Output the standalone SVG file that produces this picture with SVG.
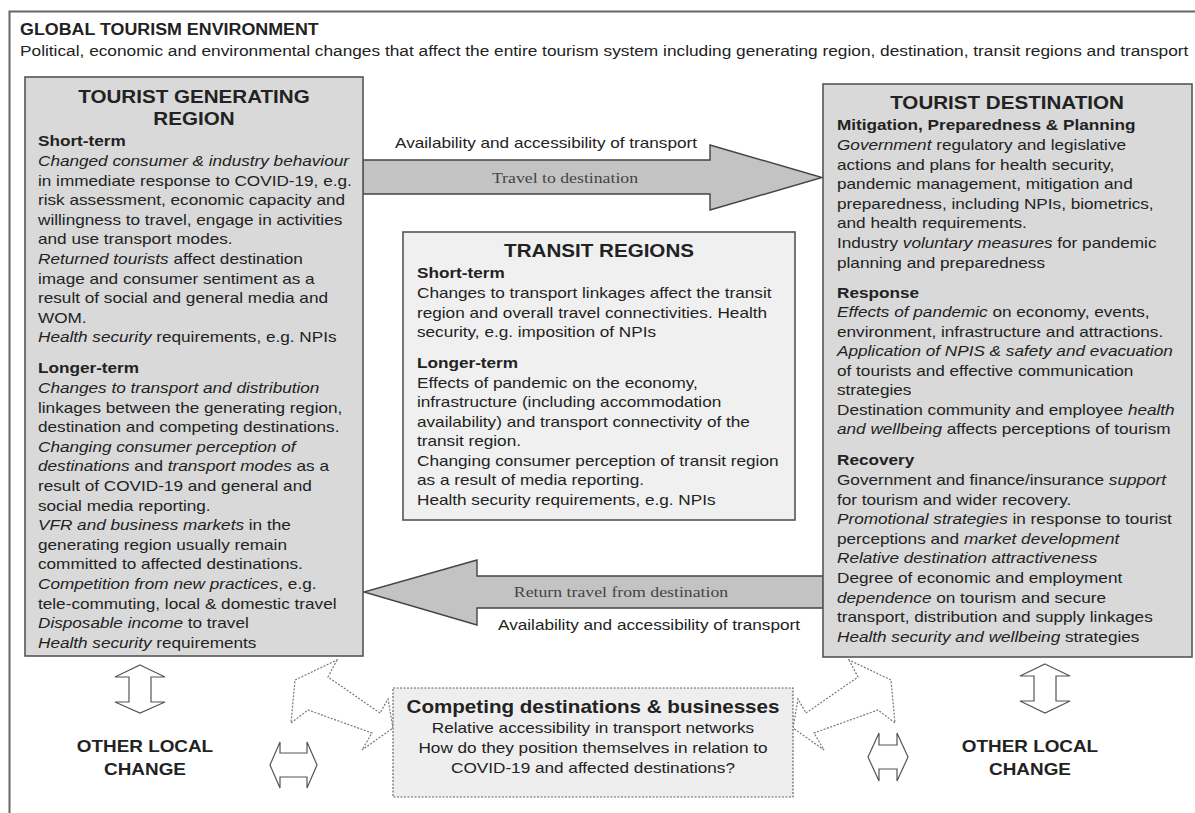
<svg xmlns="http://www.w3.org/2000/svg" width="1195" height="813" viewBox="0 0 1195 813">
<style>
text{font-family:"Liberation Sans",Arial,sans-serif;fill:#222;font-size:15px}
.b{font-weight:bold}
.t{font-weight:bold;font-size:18px}
.i{font-style:italic}
.m{text-anchor:middle}
.s{font-family:"Liberation Serif","Times New Roman",serif;fill:#444;font-size:15.5px}
.box{fill:#d9d9d9;stroke:#555;stroke-width:1.6}
.lbox{fill:#f0f0f0;stroke:#555;stroke-width:1.6}
.arr{fill:#c3c3c3;stroke:#444;stroke-width:1.4}
.dbl{fill:#fff;stroke:#555;stroke-width:1.2}
.dot{fill:#fff;stroke:#777;stroke-width:1.2;stroke-dasharray:2 1.5}
</style>
<rect width="1195" height="813" fill="#fff"/>
<path d="M9.5 813 V11.5 H1195" fill="none" stroke="#666" stroke-width="2"/>
<g id="env" transform="translate(20,0) scale(1.145,1)">
<text class="b" x="0" y="35" style="font-size:15.6px">GLOBAL TOURISM ENVIRONMENT</text>
<text x="0" y="56" style="font-size:15.1px">Political, economic and environmental changes that affect the entire tourism system including generating region, destination, transit regions and transport</text>
</g>
<g id="connectors">
<path class="arr" d="M363 160 H710 V145 L822 177.5 L710 210 V194 H363 Z"/>
<g transform="translate(395,0) scale(1.145,1)"><text x="0" y="148">Availability and accessibility of transport</text></g>
<g transform="translate(565,0) scale(1.145,1)"><text class="s m" x="0" y="183">Travel to destination</text></g>
<path class="arr" d="M823 576 H477 V560 L364 592 L477 625 V608 H823 Z"/>
<g transform="translate(621,0) scale(1.145,1)"><text class="s m" x="0" y="597">Return travel from destination</text></g>
<g transform="translate(498,0) scale(1.145,1)"><text x="0" y="630">Availability and accessibility of transport</text></g>
<path class="dbl" d="M140 665 L165 677 H151 V702 H165 L140 713 L115 702 H129 V677 H115 Z"/>
<path class="dbl" d="M1045 664 L1070 676 H1056 V701 H1070 L1045 713 L1020 701 H1034 V676 H1020 Z"/>
<path class="dbl" d="M270 765 L280 742 V753 H307 V742 L317 765 L307 788 V777 H280 V788 Z"/>
<path class="dbl" d="M868 757 L879 733 V745 H897 V733 L908 757 L897 781 V769 H879 V781 Z"/>
<path class="dot" d="M337 660 L328 677 L380 713 L388 699 L393 728 L362 750 L372 733 L308 710 L291 723 L295 680 Z"/>
<path class="dot" d="M849 660 L858 677 L806 713 L798 699 L793 728 L824 750 L814 733 L878 710 L895 723 L891 680 Z"/>
</g>
<g id="generating">
<rect class="box" x="25" y="77" width="338" height="579"/>
<g transform="translate(38,0) scale(1.145,1)">
<text class="t m" x="136.2" y="103">TOURIST GENERATING</text>
<text class="t m" x="136.2" y="125">REGION</text>
<text class="b" x="0" y="146.5">Short-term</text>
<text x="0" y="166"><tspan class="i">Changed consumer &amp; industry behaviour</tspan></text>
<text x="0" y="185.6">in immediate response to COVID-19, e.g.</text>
<text x="0" y="205.2">risk assessment, economic capacity and</text>
<text x="0" y="224.8">willingness to travel, engage in activities</text>
<text x="0" y="244.4">and use transport modes.</text>
<text x="0" y="264"><tspan class="i">Returned tourists</tspan> affect destination</text>
<text x="0" y="283.6">image and consumer sentiment as a</text>
<text x="0" y="303.2">result of social and general media and</text>
<text x="0" y="322.8">WOM.</text>
<text x="0" y="342.4"><tspan class="i">Health security</tspan> requirements, e.g. NPIs</text>
<text class="b" x="0" y="373.5">Longer-term</text>
<text x="0" y="393"><tspan class="i">Changes to transport and distribution</tspan></text>
<text x="0" y="412.6">linkages between the generating region,</text>
<text x="0" y="432.2">destination and competing destinations.</text>
<text x="0" y="451.8"><tspan class="i">Changing consumer perception of</tspan></text>
<text x="0" y="471.4"><tspan class="i">destinations</tspan> and <tspan class="i">transport modes</tspan> as a</text>
<text x="0" y="491">result of COVID-19 and general and</text>
<text x="0" y="510.6">social media reporting.</text>
<text x="0" y="530.2"><tspan class="i">VFR and business markets</tspan> in the</text>
<text x="0" y="549.8">generating region usually remain</text>
<text x="0" y="569.4">committed to affected destinations.</text>
<text x="0" y="589"><tspan class="i">Competition from new practices</tspan>, e.g.</text>
<text x="0" y="608.6">tele-commuting, local &amp; domestic travel</text>
<text x="0" y="628.2"><tspan class="i">Disposable income</tspan> to travel</text>
<text x="0" y="647.8"><tspan class="i">Health security</tspan> requirements</text>
</g>
</g>
<g id="transit">
<rect class="lbox" x="403" y="232" width="392" height="288"/>
<g transform="translate(417,0) scale(1.145,1)">
<text class="t m" x="159" y="257">TRANSIT REGIONS</text>
<text class="b" x="0" y="278.5">Short-term</text>
<text x="0" y="298.5">Changes to transport linkages affect the transit</text>
<text x="0" y="318">region and overall travel connectivities. Health</text>
<text x="0" y="337.5">security, e.g. imposition of NPIs</text>
<text class="b" x="0" y="368">Longer-term</text>
<text x="0" y="388">Effects of pandemic on the economy,</text>
<text x="0" y="407.5">infrastructure (including accommodation</text>
<text x="0" y="427">availability) and transport connectivity of the</text>
<text x="0" y="446.5">transit region.</text>
<text x="0" y="466">Changing consumer perception of transit region</text>
<text x="0" y="485.5">as a result of media reporting.</text>
<text x="0" y="505">Health security requirements, e.g. NPIs</text>
</g>
</g>
<g id="destination">
<rect class="box" x="823" y="84" width="369" height="573"/>
<g transform="translate(837,0) scale(1.145,1)">
<text class="t m" x="148.5" y="109">TOURIST DESTINATION</text>
<text class="b" x="0" y="130">Mitigation, Preparedness &amp; Planning</text>
<text x="0" y="150"><tspan class="i">Government</tspan> regulatory and legislative</text>
<text x="0" y="169.6">actions and plans for health security,</text>
<text x="0" y="189.2">pandemic management, mitigation and</text>
<text x="0" y="208.8">preparedness, including NPIs, biometrics,</text>
<text x="0" y="228.4">and health requirements.</text>
<text x="0" y="248">Industry <tspan class="i">voluntary measures</tspan> for pandemic</text>
<text x="0" y="267.6">planning and preparedness</text>
<text class="b" x="0" y="298">Response</text>
<text x="0" y="317.5"><tspan class="i">Effects of pandemic</tspan> on economy, events,</text>
<text x="0" y="337">environment, infrastructure and attractions.</text>
<text x="0" y="356.5"><tspan class="i">Application of NPIS &amp; safety and evacuation</tspan></text>
<text x="0" y="376">of tourists and effective communication</text>
<text x="0" y="395.5">strategies</text>
<text x="0" y="415">Destination community and employee <tspan class="i">health</tspan></text>
<text x="0" y="434.5"><tspan class="i">and wellbeing</tspan> affects perceptions of tourism</text>
<text class="b" x="0" y="465">Recovery</text>
<text x="0" y="485">Government and finance/insurance <tspan class="i">support</tspan></text>
<text x="0" y="504.6">for tourism and wider recovery.</text>
<text x="0" y="524.2"><tspan class="i">Promotional strategies</tspan> in response to tourist</text>
<text x="0" y="543.8">perceptions and <tspan class="i">market development</tspan></text>
<text x="0" y="563.4"><tspan class="i">Relative destination attractiveness</tspan></text>
<text x="0" y="583">Degree of economic and employment</text>
<text x="0" y="602.6"><tspan class="i">dependence</tspan> on tourism and secure</text>
<text x="0" y="622.2">transport, distribution and supply linkages</text>
<text x="0" y="641.8"><tspan class="i">Health security and wellbeing</tspan> strategies</text>
</g>
</g>
<g id="competing">
<rect x="393" y="688" width="400" height="109" fill="#eee" stroke="#666" stroke-width="1.2" stroke-dasharray="2 1.5"/>
<g transform="translate(593,0) scale(1.145,1)">
<text class="t m" x="0" y="713">Competing destinations &amp; businesses</text>
<text class="m" x="0" y="733">Relative accessibility in transport networks</text>
<text class="m" x="0" y="753">How do they position themselves in relation to</text>
<text class="m" x="0" y="773">COVID-19 and affected destinations?</text>
</g>
</g>
<g id="local-left" transform="translate(145,0) scale(1.145,1)">
<text class="b m" x="0" y="752" style="font-size:16.5px">OTHER LOCAL</text>
<text class="b m" x="0" y="775" style="font-size:16.5px">CHANGE</text>
</g>
<g id="local-right" transform="translate(1030,0) scale(1.145,1)">
<text class="b m" x="0" y="752" style="font-size:16.5px">OTHER LOCAL</text>
<text class="b m" x="0" y="775" style="font-size:16.5px">CHANGE</text>
</g>
</svg>
